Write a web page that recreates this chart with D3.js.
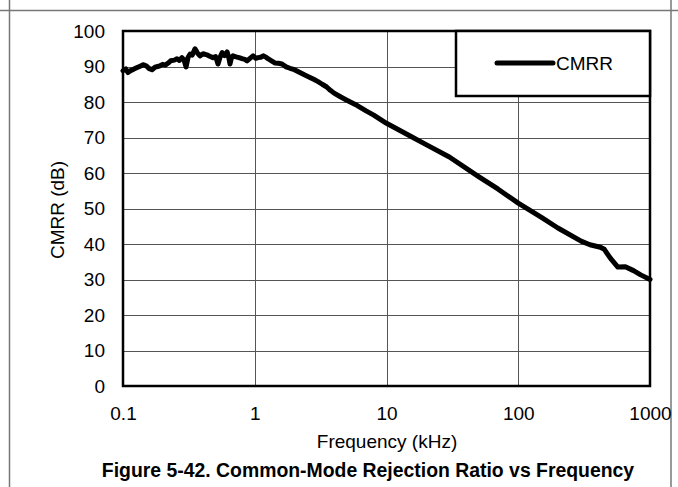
<!DOCTYPE html>
<html><head><meta charset="utf-8">
<script src="https://cdn.jsdelivr.net/npm/d3@7"></script>
<style>body{margin:0;background:#fff}svg{display:block;font-family:"Liberation Sans",Arial,sans-serif}</style>
</head><body><svg id="c" width="678" height="487"></svg>
<script>
const freqs = [0.1,0.105,0.109,0.115,0.12,0.128,0.135,0.142,0.15,0.158,0.166,0.175,0.183,0.191,0.2,0.21,0.219,0.23,0.245,0.257,0.268,0.28,0.29,0.301,0.312,0.323,0.335,0.352,0.368,0.384,0.405,0.433,0.455,0.482,0.505,0.526,0.545,0.565,0.59,0.617,0.635,0.649,0.665,0.684,0.72,0.76,0.8,0.84,0.874,0.92,0.971,1.02,1.06,1.11,1.16,1.21,1.26,1.34,1.42,1.51,1.61,1.73,1.85,2.0,2.2,2.4,2.6,2.8,3.0,3.25,3.5,3.75,4.0,4.5,5.0,6.0,7.0,8.0,10,15,20,30,50,70,100,150,200,300,350,420,450,500,570,650,750,850,1000];
const cmrr = [88.8,89.3,88.3,88.9,89.2,89.7,90.1,90.5,90.2,89.4,89.1,89.8,90.0,90.2,90.6,90.4,90.9,91.6,91.8,92.2,91.7,92.5,91.9,89.9,92.6,93.5,93.2,95.0,93.8,93.0,93.6,93.3,92.9,92.5,92.8,90.7,92.6,93.9,93.1,94.1,92.5,90.7,92.4,93.0,92.7,92.5,92.2,92.0,91.6,92.3,93.0,92.3,92.5,92.6,93.0,92.7,92.2,91.6,91.0,90.9,90.7,89.9,89.5,89.1,88.3,87.6,87.0,86.4,85.8,85.0,84.3,83.3,82.5,81.4,80.5,79.0,77.5,76.3,74.0,70.5,68.0,64.5,59.0,55.5,51.5,47.5,44.5,40.8,39.8,39.1,38.5,36.0,33.5,33.6,32.5,31.3,30.0];
const xTicks = [0.1,1,10,100,1000];
const xTickLabels = ["0.1","1","10","100","1000"];
const yTicks = [0,10,20,30,40,50,60,70,80,90,100];
const seriesName = "CMRR";

const svg = d3.select("#c");
const L=123, R=650, T=31, B=386;
const x = d3.scaleLog().domain([0.1,1000]).range([L,R]);
const y = d3.scaleLinear().domain([0,100]).range([B,T]);
const FS = 19;

// outer frame lines
svg.append("line").attr("x1",9.5).attr("x2",9.5).attr("y1",0).attr("y2",487).attr("stroke","#777").attr("stroke-width",1.5);
svg.append("line").attr("x1",671).attr("x2",671).attr("y1",0).attr("y2",487).attr("stroke","#777").attr("stroke-width",1.5);
svg.append("line").attr("x1",0).attr("x2",678).attr("y1",10.5).attr("y2",10.5).attr("stroke","#777").attr("stroke-width",1.5);

// grid
svg.append("g").selectAll("line").data(yTicks.slice(1,-1)).join("line")
  .attr("x1",L).attr("x2",R).attr("y1",d=>Math.round(y(d))+0.5).attr("y2",d=>Math.round(y(d))+0.5)
  .attr("stroke","#555").attr("stroke-width",1);
svg.append("g").selectAll("line").data(xTicks.slice(1,-1)).join("line")
  .attr("y1",T).attr("y2",B).attr("x1",d=>Math.round(x(d))+0.5).attr("x2",d=>Math.round(x(d))+0.5)
  .attr("stroke","#555").attr("stroke-width",1);

// axes labels via d3 axes (no lines)
const yAxis = svg.append("g").attr("transform",`translate(${L-18},0)`)
  .call(d3.axisLeft(y).tickValues(yTicks).tickSize(0).tickPadding(0));
yAxis.select(".domain").remove();
yAxis.selectAll("text").attr("font-size",FS).attr("fill","#000").attr("font-family","Liberation Sans, Arial, sans-serif");
const xAxis = svg.append("g").attr("transform",`translate(0,${B+20})`)
  .call(d3.axisBottom(x).tickValues(xTicks).tickFormat((d,i)=>xTickLabels[i]).tickSize(0).tickPadding(0));
xAxis.select(".domain").remove();
xAxis.selectAll("text").attr("font-size",FS).attr("fill","#000").attr("font-family","Liberation Sans, Arial, sans-serif");

// curve
const line = d3.line().x((d,i)=>x(freqs[i])).y(d=>y(d));
svg.append("path").datum(cmrr).attr("d",line).attr("fill","none").attr("stroke","#000")
  .attr("stroke-width",5).attr("stroke-linejoin","round").attr("stroke-linecap","round");

// plot frame
svg.append("rect").attr("x",L).attr("y",T).attr("width",R-L).attr("height",B-T)
  .attr("fill","none").attr("stroke","#000").attr("stroke-width",2.5);

// legend
const lg = svg.append("g");
lg.append("rect").attr("x",456).attr("y",T).attr("width",R-456).attr("height",65)
  .attr("fill","#fff").attr("stroke","#000").attr("stroke-width",2.5);
lg.append("line").attr("x1",497).attr("x2",553).attr("y1",63).attr("y2",63)
  .attr("stroke","#000").attr("stroke-width",5).attr("stroke-linecap","round");
lg.append("text").attr("x",556).attr("y",70).attr("font-size",FS).text(seriesName);

// axis titles
svg.append("text").attr("x",387).attr("y",448).attr("text-anchor","middle").attr("font-size",FS).text("Frequency (kHz)");
svg.append("text").attr("transform","translate(64,210) rotate(-90)").attr("text-anchor","middle").attr("font-size",FS).text("CMRR (dB)");
svg.append("text").attr("x",368).attr("y",477).attr("text-anchor","middle").attr("font-size",19.4).attr("font-weight","bold").text("Figure 5-42. Common-Mode Rejection Ratio vs Frequency");
</script></body></html>
